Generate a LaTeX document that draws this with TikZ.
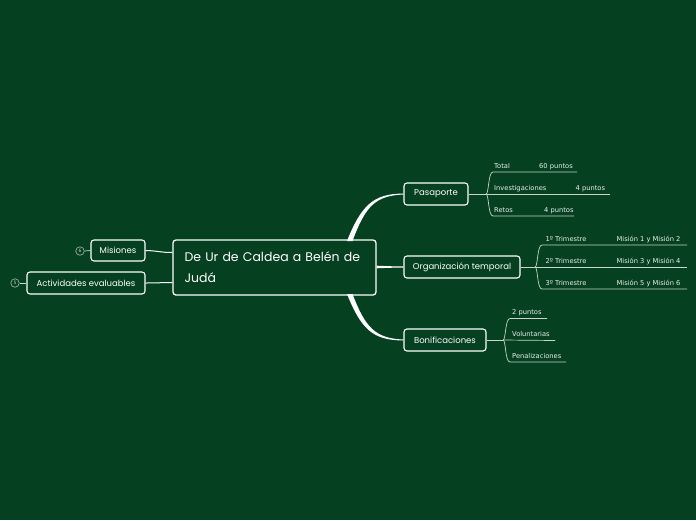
\documentclass[tikz,border=0pt]{standalone}
\usepackage{fontspec}
\setmainfont{DejaVu Sans}
\newfontfamily\hand{Poppins}
\usetikzlibrary{calc}
\definecolor{bg}{RGB}{5,64,32}
\definecolor{subline}{RGB}{200,214,204}
\begin{document}
\begin{tikzpicture}[x=1pt,y=-1pt,
  topic/.style={draw=white, line width=1.1pt, rounded corners=3pt, text=white,
    font=\hand\fontsize{8.5}{10}\selectfont, minimum height=22pt, inner sep=0pt, fill=bg},
  small/.style={text=white!92!bg, font=\fontsize{6.7}{7}\selectfont, inner sep=0pt, anchor=base west},
  sub/.style={draw=subline, line width=0.7pt},
  conn/.style={draw=white, line width=1pt},
  badge/.style={circle, draw=white!65!bg, line width=0.6pt, minimum size=8.5pt, inner sep=0pt,
    text=white!75!bg, font=\fontsize{4.5}{4.5}\selectfont}]
\fill[bg] (0,0) rectangle (696,520);

% central node
\node[draw=white, line width=1.3pt, rounded corners=3pt, fill=bg, text=white,
  minimum width=203pt, minimum height=55pt, text width=180pt, align=left, inner xsep=11.5pt,
  font=\hand\fontsize{12.5}{21}\selectfont] (c) at (274.5,267.5)
  {De Ur de Caldea a Belén de\\Judá};

% left topics
\node[topic, minimum width=54pt, minimum height=21pt] (mis) at (118,250.5) {Misiones};
\node[topic, minimum width=118pt] (act) at (86,283) {Actividades evaluables};
\node[badge] (b6) at (80,251) {6};
\node[badge] (b5) at (15,283) {5};
\draw[conn, line width=0.7pt, draw=white!80!bg] (b6.east) -- (mis.west);
\draw[conn, line width=0.7pt, draw=white!80!bg] (b5.east) -- (act.west);
\draw[conn] (mis.east) .. controls (160,251) and (160,252.5) .. ($(c.west)+(0,-15)$);
\draw[conn] (act.east) .. controls (160,283) and (160,282.5) .. ($(c.west)+(0,15)$);

% right topics
\node[topic, minimum width=64pt] (pas) at (436,194) {Pasaporte};
\node[topic, minimum width=116pt] (org) at (462,267) {Organización temporal};
\node[topic, minimum width=82pt] (bon) at (445,340) {Bonificaciones};

% tapered main branches
\fill[white] (347,241) .. controls (361,206) and (373,193.5) .. (pas.west |- 0,193.6)
  -- (pas.west |- 0,194.5) .. controls (375,195.5) and (365,207) .. (352.5,241) -- cycle;
\fill[white] (347,294) .. controls (361,329) and (373,340.5) .. (bon.west |- 0,340.4)
  -- (bon.west |- 0,339.5) .. controls (375,338.5) and (365,327) .. (352.5,294) -- cycle;
\fill[white] (c.east |- 0,265.7) .. controls (388,266.2) .. (org.west |- 0,266.5)
  -- (org.west |- 0,267.5) .. controls (388,267.8) .. (c.east |- 0,268.3) -- cycle;

% Pasaporte children
\coordinate (pj) at (486,194);
\draw[sub] (pas.east) -- (pj);
\coordinate (p1) at (577,172);
\coordinate (p2) at (610,194);
\coordinate (p3) at (574,216);
\draw[sub] (pj) .. controls (489,194) and (488,172) .. (493,172) -- (p1);
\draw[sub] (pj) -- (p2);
\draw[sub] (pj) .. controls (489,194) and (488,216) .. (493,216) -- (p3);
\node[small] (t1) at (494,168) {Total};
\node[small] (t1b) at (539,168) {60 puntos};
\node[small] (t2) at (494,190) {Investigaciones};
\node[small] (t2b) at (575.5,190) {4 puntos};
\node[small] (t3) at (494,212) {Retos};
\node[small] (t3b) at (544,212) {4 puntos};

% Organización children
\coordinate (oj) at (535,267);
\draw[sub] (org.east) -- (oj);
\coordinate (o1) at (687,245);
\coordinate (o2) at (687,267);
\coordinate (o3) at (687,289);
\draw[sub] (oj) .. controls (538,267) and (537,245) .. (542,245) -- (o1);
\draw[sub] (oj) -- (o2);
\draw[sub] (oj) .. controls (538,267) and (537,289) .. (542,289) -- (o3);
\node[small] (s1) at (545.5,241.5) {1º Trimestre};
\node[small] (s1b) at (616.5,241.5) {Misión 1 y Misión 2};
\node[small] (s2) at (545.5,263.5) {2º Trimestre};
\node[small] (s2b) at (616.5,263.5) {Misión 3 y Misión 4};
\node[small] (s3) at (545.5,285.5) {3º Trimestre};
\node[small] (s3b) at (616.5,285.5) {Misión 5 y Misión 6};

% Bonificaciones children
\coordinate (bj) at (503,340);
\draw[sub] (bon.east) -- (bj);
\coordinate (q1) at (547,318.5);
\coordinate (q2) at (555,340.5);
\coordinate (q3) at (566,362);
\draw[sub] (bj) .. controls (506,340) and (505,318.5) .. (510,318.5) -- (q1);
\draw[sub] (bj) -- (q2);
\draw[sub] (bj) .. controls (506,340) and (505,362) .. (510,362) -- (q3);
\node[small] (u1) at (512,314) {2 puntos};
\node[small] (u2) at (512,336) {Voluntarias};
\node[small] (u3) at (512,358) {Penalizaciones};
\end{tikzpicture}
\end{document}
